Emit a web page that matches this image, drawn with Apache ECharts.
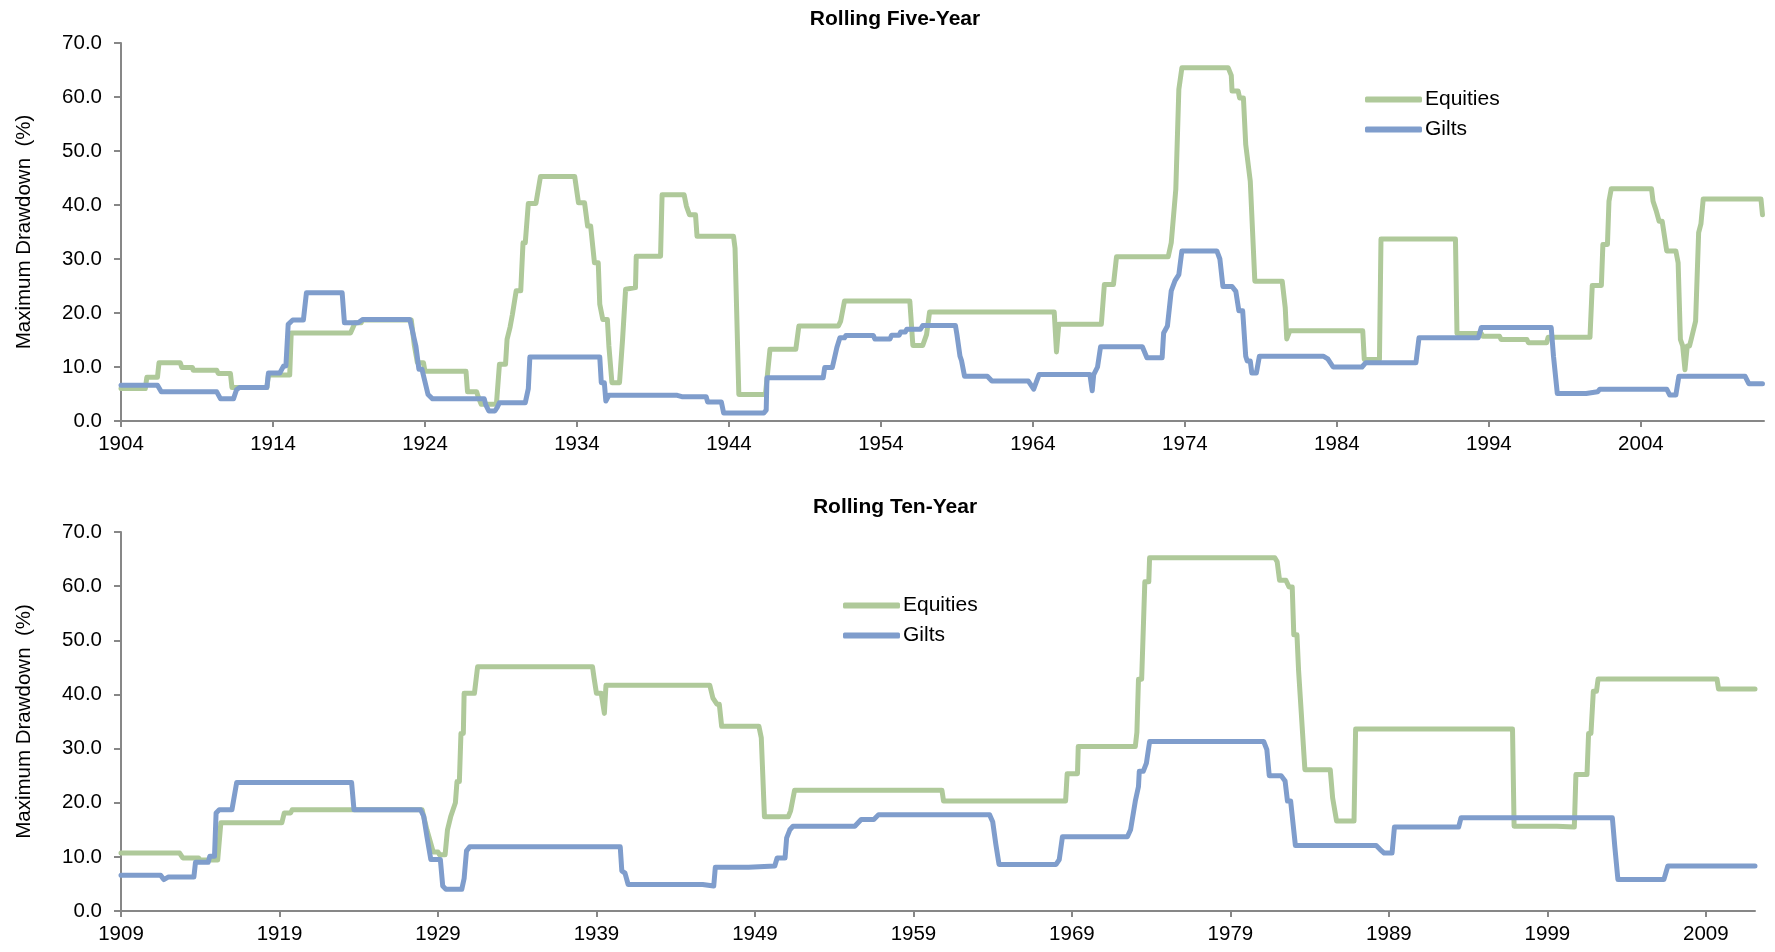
<!DOCTYPE html>
<html>
<head>
<meta charset="utf-8">
<title>Maximum Drawdown</title>
<script src="https://cdn.jsdelivr.net/npm/echarts@6/dist/echarts.min.js"></script>
<style>
  html, body { margin: 0; padding: 0; background: #ffffff; }
  #chart { width: 1775px; height: 952px; }
</style>
</head>
<body>
<div id="chart"></div>
<script>
// Rolling five-year maximum drawdown (%), [year, value]
const fiveYearEquities = [
  [1904.0, 6.0], [1905.6, 6.0], [1905.7, 8.1], [1906.4, 8.1], [1906.5, 10.8], [1907.9, 10.8],
  [1908.0, 9.9], [1908.7, 9.9], [1908.75, 9.4], [1910.3, 9.4], [1910.4, 8.8], [1911.2, 8.8],
  [1911.3, 6.2], [1913.6, 6.2], [1913.7, 8.5], [1915.1, 8.5], [1915.2, 16.3], [1919.1, 16.3],
  [1919.4, 18.2], [1919.8, 18.2], [1919.9, 18.7], [1923.1, 18.7], [1923.3, 14.0], [1923.5, 10.8],
  [1923.9, 10.8], [1924.0, 9.2], [1926.7, 9.2], [1926.8, 5.4], [1927.4, 5.4], [1927.5, 4.5],
  [1927.7, 3.1], [1928.7, 3.1], [1928.9, 10.5], [1929.3, 10.5], [1929.4, 15.1], [1929.6, 17.4],
  [1929.75, 19.7], [1930.0, 24.1], [1930.3, 24.1], [1930.45, 33.0], [1930.6, 33.0], [1930.8, 40.3],
  [1931.3, 40.3], [1931.6, 45.3], [1933.85, 45.3], [1934.1, 40.4], [1934.5, 40.4], [1934.7, 36.1],
  [1934.9, 36.1], [1935.15, 29.3], [1935.4, 29.3], [1935.5, 21.6], [1935.7, 18.8], [1936.0, 18.8],
  [1936.1, 13.9], [1936.3, 7.1], [1936.8, 7.1], [1937.0, 15.1], [1937.2, 24.4], [1937.85, 24.7],
  [1937.9, 30.5], [1939.5, 30.5], [1939.6, 41.9], [1941.05, 41.9], [1941.2, 39.8], [1941.4, 38.2],
  [1941.8, 38.2], [1941.9, 34.2], [1944.3, 34.2], [1944.4, 32.0], [1944.65, 4.9], [1946.4, 4.9],
  [1946.7, 13.3], [1948.4, 13.3], [1948.6, 17.6], [1951.2, 17.6], [1951.35, 18.5], [1951.6, 22.2],
  [1955.9, 22.2], [1956.1, 14.0], [1956.75, 14.0], [1957.0, 16.0], [1957.2, 20.2], [1965.4, 20.2],
  [1965.55, 12.8], [1965.7, 17.9], [1968.5, 17.9], [1968.7, 25.3], [1969.3, 25.3], [1969.5, 30.4],
  [1972.9, 30.4], [1973.1, 33.0], [1973.4, 42.9], [1973.6, 61.4], [1973.8, 65.4], [1976.85, 65.4],
  [1977.05, 64.0], [1977.1, 61.1], [1977.5, 61.1], [1977.6, 59.8], [1977.85, 59.8], [1978.0, 51.2],
  [1978.1, 51.2], [1978.3, 44.4], [1978.4, 44.4], [1978.6, 25.9], [1980.4, 25.9], [1980.6, 21.0],
  [1980.7, 15.2], [1980.9, 16.7], [1985.7, 16.7], [1985.8, 11.4], [1986.8, 11.4], [1986.9, 33.7],
  [1991.8, 33.7], [1991.9, 16.2], [1993.5, 16.2], [1993.6, 15.7], [1994.7, 15.7], [1994.8, 15.1],
  [1996.5, 15.1], [1996.6, 14.5], [1997.8, 14.5], [1997.9, 15.5], [2000.65, 15.5], [2000.8, 25.1],
  [2001.4, 25.1], [2001.5, 32.7], [2001.8, 32.7], [2001.9, 40.7], [2002.05, 43.0], [2004.7, 43.0],
  [2004.8, 40.7], [2005.0, 39.0], [2005.2, 37.0], [2005.4, 37.0], [2005.7, 31.5], [2006.3, 31.5],
  [2006.45, 29.3], [2006.6, 15.1], [2006.75, 13.9], [2006.9, 9.5], [2007.05, 13.9], [2007.2, 13.9],
  [2007.3, 15.0], [2007.6, 18.5], [2007.8, 34.9], [2007.95, 36.5], [2008.1, 41.1], [2011.9, 41.1],
  [2012.0, 38.2]
];

const fiveYearGilts = [
  [1904.0, 6.6], [1906.4, 6.6], [1906.65, 5.4], [1910.3, 5.4], [1910.55, 4.1], [1911.4, 4.1],
  [1911.6, 5.8], [1911.8, 6.2], [1913.6, 6.2], [1913.7, 8.9], [1914.45, 8.9], [1914.7, 10.2],
  [1914.85, 10.2], [1915.0, 17.9], [1915.3, 18.7], [1916.0, 18.7], [1916.2, 23.75], [1918.55, 23.75],
  [1918.7, 18.2], [1919.6, 18.2], [1919.9, 18.8], [1923.0, 18.8], [1923.15, 17.0], [1923.4, 13.9],
  [1923.6, 9.6], [1923.8, 9.6], [1924.2, 4.9], [1924.5, 4.1], [1927.9, 4.1], [1928.0, 3.0],
  [1928.2, 1.85], [1928.6, 1.85], [1928.75, 2.5], [1928.9, 3.4], [1930.6, 3.4], [1930.8, 6.0],
  [1930.9, 11.85], [1935.5, 11.85], [1935.6, 7.1], [1935.8, 7.1], [1935.9, 3.7], [1936.1, 4.75],
  [1940.6, 4.75], [1940.9, 4.5], [1942.5, 4.5], [1942.6, 3.5], [1943.5, 3.5], [1943.65, 1.5],
  [1946.3, 1.5], [1946.45, 2.0], [1946.5, 8.0], [1950.2, 8.0], [1950.3, 9.9], [1950.8, 9.9],
  [1951.1, 13.6], [1951.3, 15.4], [1951.6, 15.4], [1951.7, 15.85], [1953.5, 15.85], [1953.6, 15.2],
  [1954.6, 15.2], [1954.7, 15.9], [1955.2, 15.9], [1955.3, 16.5], [1955.6, 16.5], [1955.7, 17.0],
  [1956.6, 17.0], [1956.75, 17.7], [1958.9, 17.7], [1959.0, 16.0], [1959.2, 12.0], [1959.3, 11.2],
  [1959.5, 8.3], [1961.0, 8.3], [1961.3, 7.4], [1963.7, 7.4], [1964.05, 5.9], [1964.4, 8.6],
  [1967.75, 8.6], [1967.9, 5.6], [1968.0, 8.6], [1968.25, 10.0], [1968.45, 13.75], [1971.2, 13.75],
  [1971.5, 11.7], [1972.5, 11.7], [1972.6, 16.3], [1972.85, 17.6], [1973.1, 24.1], [1973.35, 26.0],
  [1973.6, 27.1], [1973.8, 31.5], [1976.1, 31.5], [1976.3, 30.0], [1976.5, 24.9], [1977.1, 24.9],
  [1977.35, 24.0], [1977.55, 20.4], [1977.8, 20.4], [1978.0, 12.0], [1978.1, 11.1], [1978.3, 11.1],
  [1978.4, 8.9], [1978.7, 8.9], [1978.9, 12.0], [1983.1, 12.0], [1983.4, 11.5], [1983.75, 10.0],
  [1985.65, 10.0], [1985.9, 10.8], [1989.2, 10.8], [1989.4, 15.4], [1993.3, 15.4], [1993.5, 17.3],
  [1998.1, 17.3], [1998.25, 12.0], [1998.5, 5.1], [2000.4, 5.1], [2000.5, 5.4], [2001.15, 5.4],
  [2001.3, 5.9], [2005.7, 5.9], [2005.9, 4.8], [2006.3, 4.8], [2006.5, 8.3], [2010.85, 8.3],
  [2011.1, 6.9], [2012.0, 6.9]
];

// Rolling ten-year maximum drawdown (%), [year, value]
const tenYearEquities = [
  [1909.0, 10.7], [1912.7, 10.7], [1912.9, 9.8], [1913.9, 9.8], [1914.0, 9.4], [1915.1, 9.4],
  [1915.3, 16.3], [1919.15, 16.3], [1919.3, 18.1], [1919.7, 18.1], [1919.8, 18.7], [1928.0, 18.7],
  [1928.3, 15.0], [1928.7, 10.9], [1929.0, 10.9], [1929.1, 10.4], [1929.45, 10.4], [1929.6, 15.0],
  [1929.8, 17.4], [1930.1, 20.0], [1930.2, 23.9], [1930.35, 23.9], [1930.45, 32.8], [1930.6, 32.8],
  [1930.65, 40.2], [1931.3, 40.2], [1931.5, 45.1], [1938.75, 45.1], [1938.85, 43.0], [1939.0, 40.2],
  [1939.3, 40.2], [1939.5, 36.5], [1939.6, 41.7], [1946.15, 41.7], [1946.35, 39.3], [1946.6, 38.2],
  [1946.75, 38.2], [1946.9, 34.1], [1949.25, 34.1], [1949.4, 32.0], [1949.6, 17.4], [1951.1, 17.4],
  [1951.25, 18.5], [1951.5, 22.3], [1960.8, 22.3], [1960.9, 20.3], [1968.6, 20.3], [1968.7, 25.35],
  [1969.35, 25.35], [1969.4, 30.4], [1973.0, 30.4], [1973.1, 33.0], [1973.2, 42.8], [1973.4, 42.8],
  [1973.6, 60.8], [1973.85, 60.8], [1973.9, 65.25], [1981.8, 65.25], [1981.95, 64.5], [1982.1, 61.1],
  [1982.5, 61.1], [1982.7, 59.85], [1982.9, 59.85], [1983.0, 51.0], [1983.2, 51.0], [1983.3, 44.5],
  [1983.7, 26.1], [1985.3, 26.1], [1985.45, 20.9], [1985.7, 16.6], [1986.8, 16.6], [1986.9, 33.6],
  [1996.8, 33.6], [1996.9, 15.65], [1999.6, 15.65], [1999.7, 15.5], [2000.7, 15.5], [2000.8, 25.2],
  [2001.5, 25.2], [2001.6, 32.8], [2001.75, 32.8], [2001.9, 40.6], [2002.1, 40.6], [2002.2, 42.85],
  [2009.7, 42.85], [2009.8, 41.0], [2012.1, 41.0]
];

const tenYearGilts = [
  [1909.0, 6.6], [1911.5, 6.6], [1911.7, 5.8], [1912.0, 6.3], [1913.6, 6.3], [1913.7, 9.0],
  [1914.5, 9.0], [1914.6, 10.1], [1914.9, 10.1], [1915.0, 18.1], [1915.2, 18.7], [1916.0, 18.7],
  [1916.3, 23.75], [1923.55, 23.75], [1923.7, 18.7], [1927.9, 18.7], [1928.1, 17.5], [1928.3, 13.8],
  [1928.55, 9.5], [1929.15, 9.5], [1929.3, 4.6], [1929.5, 4.0], [1930.5, 4.0], [1930.65, 6.0],
  [1930.8, 11.1], [1931.0, 11.85], [1940.5, 11.85], [1940.6, 7.4], [1940.8, 7.0], [1941.0, 4.9],
  [1945.7, 4.9], [1945.8, 4.6], [1946.4, 4.6], [1946.5, 8.1], [1948.6, 8.1], [1948.7, 8.3],
  [1950.25, 8.3], [1950.4, 9.8], [1950.9, 9.8], [1951.0, 13.5], [1951.2, 15.0], [1951.4, 15.65],
  [1955.3, 15.65], [1955.7, 16.9], [1956.5, 16.9], [1956.8, 17.8], [1963.8, 17.8], [1964.0, 16.5],
  [1964.2, 12.3], [1964.4, 8.6], [1968.0, 8.6], [1968.2, 9.5], [1968.4, 13.7], [1972.5, 13.7],
  [1972.7, 15.0], [1973.0, 20.3], [1973.2, 23.0], [1973.25, 25.8], [1973.5, 25.8], [1973.7, 27.3],
  [1973.9, 31.3], [1981.1, 31.3], [1981.3, 29.8], [1981.45, 25.0], [1982.2, 25.0], [1982.45, 24.0],
  [1982.6, 20.3], [1982.8, 20.3], [1983.1, 12.1], [1988.2, 12.1], [1988.45, 11.35], [1988.7, 10.7],
  [1989.2, 10.7], [1989.35, 15.5], [1993.4, 15.5], [1993.55, 17.2], [2003.1, 17.2], [2003.25, 12.0],
  [2003.45, 5.8], [2006.35, 5.8], [2006.6, 8.3], [2012.1, 8.3]
];

// Year labels on each x axis
const fiveYearTicks = [1904, 1914, 1924, 1934, 1944, 1954, 1964, 1974, 1984, 1994, 2004];
const tenYearTicks = [1909, 1919, 1929, 1939, 1949, 1959, 1969, 1979, 1989, 1999, 2009];

const panelTitles = ['Rolling Five-Year', 'Rolling Ten-Year'];
const seriesNames = ['Equities', 'Gilts'];

const FONT = "'Liberation Sans', Arial, sans-serif";
const GREEN = '#AFC99A';
const BLUE = '#7F9DCC';
const AXIS_GREY = '#878787';

function xAxisFor(gridIndex, min, ticks) {
  return {
    type: 'value',
    gridIndex: gridIndex,
    min: min,
    max: 2012.1,
    splitLine: { show: false },
    axisLine: { show: true, lineStyle: { color: AXIS_GREY, width: 2 } },
    axisTick: { show: true, length: 6, customValues: ticks, lineStyle: { color: AXIS_GREY, width: 2 } },
    axisLabel: {
      customValues: ticks, margin: 13, color: '#000', fontFamily: FONT, fontSize: 20.5,
      formatter: v => String(v)
    }
  };
}

function yAxisFor(gridIndex) {
  return {
    type: 'value',
    gridIndex: gridIndex,
    min: 0, max: 70, interval: 10,
    name: 'Maximum Drawdown  (%)',
    nameLocation: 'middle',
    nameGap: 86,
    nameTextStyle: { color: '#000', fontFamily: FONT, fontSize: 20.5 },
    splitLine: { show: false },
    axisLine: { show: true, lineStyle: { color: AXIS_GREY, width: 2 } },
    axisTick: { show: true, length: 7, lineStyle: { color: AXIS_GREY, width: 2 } },
    axisLabel: { margin: 19, color: '#000', fontFamily: FONT, fontSize: 20.5, formatter: v => v.toFixed(1) }
  };
}

function lineSeries(name, color, data, idx) {
  return {
    name: name,
    type: 'line',
    xAxisIndex: idx,
    yAxisIndex: idx,
    data: data,
    showSymbol: false,
    symbol: 'none',
    lineStyle: { color: color, width: 5, join: 'round', cap: 'round' },
    itemStyle: { color: color },
    animation: false
  };
}

function legendAt(left, top) {
  return {
    data: seriesNames,
    orient: 'vertical',
    left: left, top: top,
    icon: 'roundRect',
    itemWidth: 57, itemHeight: 6, itemGap: 9,
    textStyle: { color: '#000', fontFamily: FONT, fontSize: 21, padding: [0, 0, 0, -2] }
  };
}

const chart = echarts.init(document.getElementById('chart'), null, { renderer: 'canvas' });
chart.setOption({
  backgroundColor: '#ffffff',
  animation: false,
  graphic: [
    { type: 'text', x: 895, y: 19, style: { text: panelTitles[0], font: 'bold 21px ' + FONT, fill: '#000', align: 'center', verticalAlign: 'middle' } },
    { type: 'text', x: 895, y: 507, style: { text: panelTitles[1], font: 'bold 21px ' + FONT, fill: '#000', align: 'center', verticalAlign: 'middle' } }
  ],
  grid: [
    { left: 121, top: 43, right: 11, height: 378 },
    { left: 121, top: 532, right: 20, height: 379 }
  ],
  xAxis: [xAxisFor(0, 1904, fiveYearTicks), xAxisFor(1, 1909, tenYearTicks)],
  yAxis: [yAxisFor(0), yAxisFor(1)],
  legend: [legendAt(1360, 84), legendAt(838, 590)],
  series: [
    lineSeries(seriesNames[0], GREEN, fiveYearEquities, 0),
    lineSeries(seriesNames[1], BLUE, fiveYearGilts, 0),
    lineSeries(seriesNames[0], GREEN, tenYearEquities, 1),
    lineSeries(seriesNames[1], BLUE, tenYearGilts, 1)
  ]
});
</script>
</body>
</html>
